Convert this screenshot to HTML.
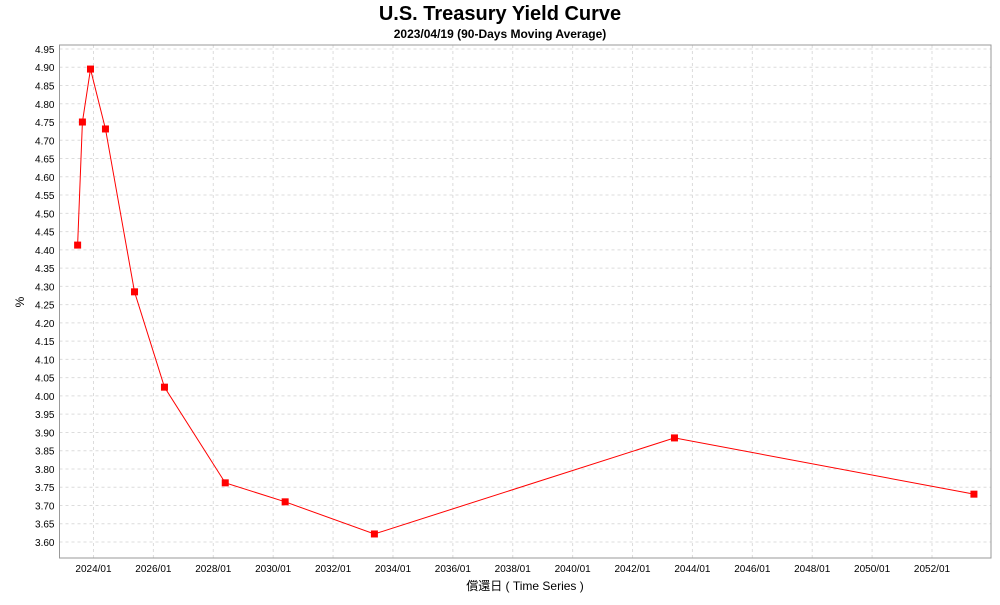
<!DOCTYPE html>
<html><head><meta charset="utf-8"><style>
body{margin:0;background:#fff;}
svg text{font-family:"Liberation Sans","Noto Sans CJK JP",sans-serif;}
</style></head><body>
<svg id="chart" width="1000" height="600">
<text x="500" y="20" text-anchor="middle" font-size="20" font-weight="bold">U.S. Treasury Yield Curve</text>
<text x="500" y="38" text-anchor="middle" font-size="12" font-weight="bold">2023/04/19 (90-Days Moving Average)</text>
<text transform="translate(24,302) rotate(-90)" text-anchor="middle" font-size="12">%</text>
<text x="525" y="590" text-anchor="middle" font-size="12">償還日 ( Time Series )</text>
<g id="grid"></g><g id="axes"></g><g id="series"></g>
</svg>
<script>
const dates = [2023.47, 2023.63, 2023.90, 2024.40, 2025.37, 2026.37, 2028.40, 2030.40, 2033.38, 2043.40, 2053.40];
const yields = [4.413, 4.750, 4.895, 4.731, 4.285, 4.024, 3.762, 3.710, 3.622, 3.885, 3.731];
const yTicks = [3.60,3.65,3.70,3.75,3.80,3.85,3.90,3.95,4.00,4.05,4.10,4.15,4.20,4.25,4.30,4.35,4.40,4.45,4.50,4.55,4.60,4.65,4.70,4.75,4.80,4.85,4.90,4.95];
const xTicks = [2024,2026,2028,2030,2032,2034,2036,2038,2040,2042,2044,2046,2048,2050,2052];

const L=59.5,R=991,T=45,B=558;
const xMin=2022.865,xMax=2053.97,yMin=3.5562,yMax=4.9609;
const xs=v=>L+(v-xMin)/(xMax-xMin)*(R-L);
const ys=v=>B-(v-yMin)/(yMax-yMin)*(B-T);
const NS="http://www.w3.org/2000/svg";
function mk(tag,attrs,parent){const e=document.createElementNS(NS,tag);for(const k in attrs)e.setAttribute(k,attrs[k]);parent.appendChild(e);return e;}
const grid=document.getElementById('grid'),axes=document.getElementById('axes'),ser=document.getElementById('series');
yTicks.forEach(v=>{
  const y=ys(v);
  const g=mk('line',{x1:L,x2:R,y1:y,y2:y,stroke:'#dcdcdc','stroke-dasharray':'3,3'},grid);
  
  
  const t=mk('text',{x:L-5,y:y+4,'text-anchor':'end','font-size':'10'},axes);
  t.textContent=v.toFixed(2);
  
  
});
xTicks.forEach(v=>{
  const x=xs(v);
  const g=mk('line',{x1:x,x2:x,y1:T,y2:B,stroke:'#dcdcdc','stroke-dasharray':'3,3'},grid);
  
  
  const t=mk('text',{x:x,y:B+14,'text-anchor':'middle','font-size':'10'},axes);
  t.textContent=v+'/01';
  
  
});
const frame=mk('rect',{x:L,y:T,width:R-L,height:B-T,fill:'none',stroke:'#999'},axes);


const pts=dates.map((d,i)=>xs(d)+','+ys(yields[i])).join(' ');
const line=mk('polyline',{points:pts,fill:'none',stroke:'#ff0000','stroke-width':'1'},ser);


dates.forEach((d,i)=>{
  const m=mk('rect',{x:xs(d)-3.5,y:ys(yields[i])-3.5,width:7,height:7,fill:'#ff0000'},ser);
  
  
});
</script>
</body></html>
